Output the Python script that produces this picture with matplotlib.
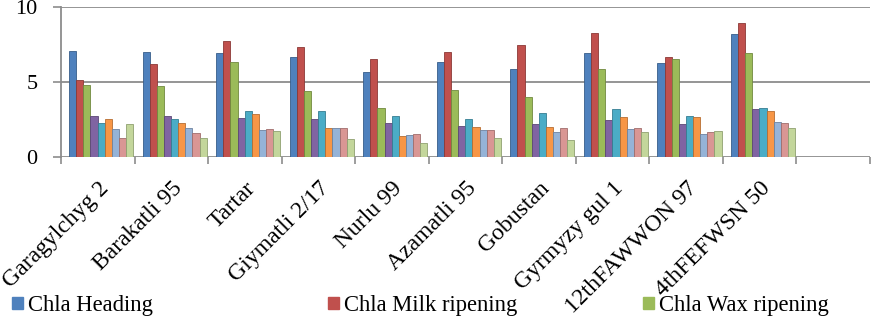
import numpy as np
import matplotlib
matplotlib.use("Agg")
import matplotlib.pyplot as plt
from matplotlib.patches import Patch

categories = ["Garagylchyg 2", "Barakatli 95", "Tartar", "Giymatli 2/17", "Nurlu 99",
              "Azamatli 95", "Gobustan", "Gyrmyzy gul 1", "12thFAWWON 97", "4thFEFWSN 50", ""]

series_names = ["Chla Heading", "Chla Milk ripening", "Chla Wax ripening",
                "Chlb Heading", "Chlb Milk ripening", "Chlb Wax ripening",
                "Car Heading", "Car Milk ripening", "Car Wax ripening"]

chla_heading = [7.04, 7.02, 6.93, 6.64, 5.69, 6.33, 5.89, 6.93, 6.24, 8.20]
chla_milk    = [5.15, 6.17, 7.71, 7.31, 6.51, 6.98, 7.45, 8.29, 6.67, 8.92]
chla_wax     = [4.80, 4.73, 6.31, 4.41, 3.26, 4.44, 3.99, 5.89, 6.51, 6.96]
chlb_heading = [2.74, 2.74, 2.63, 2.56, 2.25, 2.10, 2.23, 2.50, 2.21, 3.21]
chlb_milk    = [2.30, 2.52, 3.10, 3.10, 2.76, 2.52, 2.94, 3.21, 2.74, 3.28]
chlb_wax     = [2.54, 2.30, 2.90, 1.92, 1.43, 2.03, 1.99, 2.70, 2.68, 3.10]
car_heading  = [1.90, 1.96, 1.80, 1.92, 1.47, 1.83, 1.65, 1.90, 1.56, 2.32]
car_milk     = [1.25, 1.58, 1.90, 1.92, 1.52, 1.81, 1.96, 1.96, 1.69, 2.25]
car_wax      = [2.20, 1.29, 1.74, 1.22, 0.96, 1.25, 1.14, 1.67, 1.76, 1.96]

series = [chla_heading, chla_milk, chla_wax, chlb_heading, chlb_milk, chlb_wax,
          car_heading, car_milk, car_wax]

colors = ["#4F81BD", "#C0504D", "#9BBB59", "#8064A2", "#4BACC6", "#F79646",
          "#95B3D7", "#D99694", "#C3D69B"]
edges = ["#385D8A", "#8C3836", "#71893F", "#5C4776", "#357D91", "#B66D31",
         "#6D83A0", "#A06D6C", "#8FA071"]

plt.rcParams['font.family'] = ['Liberation Serif', 'DejaVu Serif']

fig = plt.figure(figsize=(8.76, 3.19), dpi=100)
ax = fig.add_axes([61/876, 1-157/319, (870-61)/876, (157-7)/319])

n_cat = len(categories)
bw = 0.097
start = 0.109
x = np.arange(len(chla_heading))
for i, (vals, c, ec, name) in enumerate(zip(series, colors, edges, series_names)):
    pos = x - 0.5 + start + (i + 0.5) * bw
    ax.bar(pos, vals, width=bw, color=c, edgecolor=ec, linewidth=0.6, label=name, zorder=3)

ax.set_xlim(-0.5, n_cat - 0.5)
ax.set_ylim(0, 10)
ax.set_yticks([0, 5, 10])
for yv in [5, 10]:
    ax.axhline(yv, color="#8C8C8C", lw=1.3, zorder=1)
ax.axhline(0, color="#8C8C8C", lw=1.3, zorder=1)

ax.set_xticks(np.arange(n_cat))
ax.set_xticklabels(categories, rotation=45, ha='right', rotation_mode='anchor', fontsize=17)
ax.set_xticks(np.arange(n_cat + 1) - 0.5, minor=True)
ax.tick_params(axis='x', which='major', length=0, pad=15)
ax.tick_params(axis='x', which='minor', length=5, color="#8C8C8C", width=1.2)
ax.tick_params(axis='y', length=6, color="#8C8C8C", width=1.2, labelsize=16, pad=11)

for s in ['top', 'right', 'bottom']:
    ax.spines[s].set_visible(False)
ax.spines['left'].set_color("#8C8C8C")
ax.spines['left'].set_linewidth(1.3)

legend_x = [0.0087, 0.369, 0.729]
for i in range(3):
    h = Patch(facecolor=colors[i], edgecolor=colors[i])
    fig.legend(handles=[h], labels=[series_names[i]], loc='lower left',
               bbox_to_anchor=(legend_x[i], -0.005), frameon=False, fontsize=16.3,
               handlelength=0.5, handleheight=0.5, handletextpad=0.2,
               borderpad=0.2, borderaxespad=0)

fig.savefig("out.png", dpi=100)
